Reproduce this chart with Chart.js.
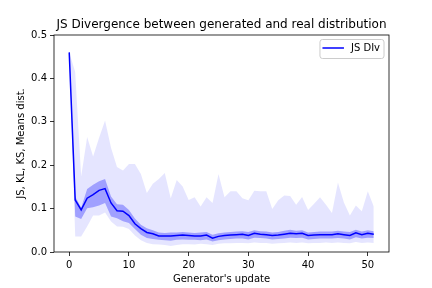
<!DOCTYPE html>
<html lang="en">
<head>
  <meta charset="UTF-8" />
  <title>JS Divergence</title>
  <script src="https://cdn.jsdelivr.net/npm/chart.js"></script>
  <style>
    html, body {
      margin: 0;
      padding: 0;
      background: #ffffff;
    }
    canvas {
      display: block;
    }
  </style>
</head>
<body>
  <canvas id="jsChart" width="432" height="288"></canvas>

  <script>
    // values, one per generator update (0..51)
    const meanDist = [
      0.460, 0.120, 0.097, 0.124, 0.132, 0.142, 0.146, 0.113, 0.095, 0.094,
      0.084, 0.065, 0.054, 0.045, 0.042, 0.037, 0.037, 0.037, 0.038, 0.039,
      0.038, 0.037, 0.037, 0.039, 0.032, 0.036, 0.038, 0.039, 0.040, 0.041,
      0.038, 0.043, 0.041, 0.040, 0.038, 0.039, 0.041, 0.043, 0.042, 0.043,
      0.038, 0.039, 0.040, 0.040, 0.040, 0.042, 0.040, 0.038, 0.044, 0.040,
      0.043, 0.041
    ];
    const stdUpper = [
      0.460, 0.128, 0.102, 0.145, 0.155, 0.163, 0.168, 0.128, 0.110, 0.109,
      0.097, 0.077, 0.063, 0.055, 0.050, 0.045, 0.044, 0.045, 0.045, 0.046,
      0.045, 0.044, 0.045, 0.046, 0.040, 0.043, 0.045, 0.046, 0.047, 0.048,
      0.046, 0.050, 0.048, 0.047, 0.045, 0.046, 0.049, 0.051, 0.049, 0.050,
      0.045, 0.046, 0.047, 0.047, 0.047, 0.049, 0.047, 0.046, 0.051, 0.047,
      0.050, 0.048
    ];
    const stdLower = [
      0.460, 0.082, 0.076, 0.101, 0.103, 0.107, 0.113, 0.082, 0.078, 0.071,
      0.067, 0.053, 0.040, 0.032, 0.030, 0.028, 0.027, 0.026, 0.028, 0.029,
      0.028, 0.028, 0.027, 0.029, 0.024, 0.027, 0.029, 0.030, 0.031, 0.031,
      0.029, 0.033, 0.032, 0.031, 0.029, 0.030, 0.031, 0.033, 0.032, 0.033,
      0.029, 0.030, 0.031, 0.031, 0.031, 0.032, 0.031, 0.029, 0.034, 0.031,
      0.033, 0.032
    ];
    const maxDist = [
      0.460, 0.415, 0.174, 0.265, 0.220, 0.263, 0.303, 0.240, 0.196, 0.188,
      0.203, 0.203, 0.180, 0.136, 0.157, 0.168, 0.182, 0.124, 0.166, 0.151,
      0.120, 0.126, 0.105, 0.126, 0.113, 0.180, 0.126, 0.140, 0.140, 0.124,
      0.119, 0.141, 0.140, 0.140, 0.099, 0.119, 0.130, 0.129, 0.109, 0.127,
      0.097, 0.111, 0.126, 0.109, 0.090, 0.160, 0.114, 0.084, 0.107, 0.094,
      0.140, 0.105
    ];
    const minDist = [
      0.460, 0.036, 0.036, 0.059, 0.084, 0.084, 0.091, 0.070, 0.059, 0.058,
      0.053, 0.038, 0.027, 0.021, 0.018, 0.017, 0.016, 0.014, 0.016, 0.018,
      0.018, 0.017, 0.019, 0.018, 0.016, 0.019, 0.020, 0.020, 0.021, 0.021,
      0.020, 0.022, 0.021, 0.021, 0.019, 0.020, 0.021, 0.022, 0.021, 0.022,
      0.020, 0.021, 0.021, 0.022, 0.021, 0.022, 0.021, 0.020, 0.023, 0.021,
      0.022, 0.021
    ];
    const xTicks = [0, 10, 20, 30, 40, 50];
    const yTicks = [0.0, 0.1, 0.2, 0.3, 0.4, 0.5];

    const font = { family: 'DejaVu Sans', size: 10 };
    const toPoints = arr => arr.map((v, i) => ({ x: i, y: v }));

    // axes box on all four sides, like matplotlib
    const frame = {
      id: 'frame',
      afterDraw(chart) {
        const { ctx, chartArea: a } = chart;
        ctx.save();
        ctx.strokeStyle = '#000';
        ctx.lineWidth = 0.8;
        ctx.strokeRect(a.left, a.top, a.right - a.left, a.bottom - a.top);
        ctx.restore();
      }
    };

    // legend box in the upper right corner of the plot
    const legendBox = {
      id: 'legendBox',
      afterDraw(chart) {
        const { ctx, chartArea: a } = chart;
        const ds = chart.data.datasets[0];
        ctx.save();
        ctx.font = '10px "DejaVu Sans"';
        const tw = ctx.measureText(ds.label).width;
        const w = 2 + 22 + 7 + tw + 4;
        const h = 19;
        const x = a.right - 5 - w;
        const y = a.top + 4.5;
        ctx.beginPath();
        ctx.roundRect(x, y, w, h, 2.5);
        ctx.fillStyle = 'rgba(255,255,255,0.8)';
        ctx.fill();
        ctx.strokeStyle = '#cccccc';
        ctx.lineWidth = 1;
        ctx.stroke();
        ctx.beginPath();
        ctx.moveTo(x + 2.5, y + 8.5);
        ctx.lineTo(x + 24, y + 8.5);
        ctx.strokeStyle = ds.borderColor;
        ctx.lineWidth = 1.5;
        ctx.stroke();
        ctx.fillStyle = '#000';
        ctx.textBaseline = 'middle';
        ctx.fillText(ds.label, x + 31, y + 9);
        ctx.restore();
      }
    };

    new Chart(document.getElementById('jsChart'), {
      type: 'line',
      data: {
        datasets: [
          {
            label: 'JS DIv',
            data: toPoints(meanDist),
            borderColor: '#0000ff',
            borderWidth: 1.5,
            pointRadius: 0,
            fill: false
          },
          {
            label: 'std upper',
            data: toPoints(stdUpper),
            borderWidth: 0,
            pointRadius: 0,
            backgroundColor: 'rgba(0,0,255,0.3)',
            fill: '+1'
          },
          {
            label: 'std lower',
            data: toPoints(stdLower),
            borderWidth: 0,
            pointRadius: 0,
            fill: false
          },
          {
            label: 'max',
            data: toPoints(maxDist),
            borderWidth: 0,
            pointRadius: 0,
            backgroundColor: 'rgba(0,0,255,0.1)',
            fill: '+1'
          },
          {
            label: 'min',
            data: toPoints(minDist),
            borderWidth: 0,
            pointRadius: 0,
            fill: false
          }
        ]
      },
      options: {
        responsive: false,
        animation: false,
        devicePixelRatio: 1,
        layout: { padding: { left: 11, right: 0, top: 0, bottom: 0 } },
        elements: { line: { tension: 0 } },
        plugins: {
          legend: { display: false },
          tooltip: { enabled: false },
          title: {
            display: true,
            text: 'JS Divergence between generated and real distribution',
            color: '#000',
            font: { family: 'DejaVu Sans', size: 12, weight: 'normal' },
            padding: { top: 17.6, bottom: 3 }
          }
        },
        scales: {
          x: {
            type: 'linear',
            min: -2.55,
            max: 53.55,
            afterBuildTicks: axis => { axis.ticks = xTicks.map(v => ({ value: v })); },
            afterFit: axis => { axis.height = 36; },
            ticks: { color: '#000', font, padding: 3, maxRotation: 0, autoSkip: false },
            grid: { drawOnChartArea: false, drawTicks: true, tickLength: 4, color: '#000', lineWidth: 0.8 },
            border: { display: false },
            title: {
              display: true,
              text: "Generator's update",
              color: '#000',
              font,
              padding: { top: 0, bottom: 3 }
            }
          },
          y: {
            type: 'linear',
            min: 0,
            max: 0.5,
            afterBuildTicks: axis => { axis.ticks = yTicks.map(v => ({ value: v })); },
            afterFit: axis => { axis.width = 43; },
            ticks: { color: '#000', font, padding: 3, callback: v => v.toFixed(1) },
            grid: { drawOnChartArea: false, drawTicks: true, tickLength: 4, color: '#000', lineWidth: 0.8 },
            border: { display: false },
            title: {
              display: true,
              text: 'JS, KL, KS, Means dist.',
              color: '#000',
              font,
              padding: { top: 4, bottom: 0 }
            }
          },
          spacer: {
            type: 'linear',
            position: 'right',
            display: true,
            afterFit: axis => { axis.width = 43; },
            ticks: { display: false },
            grid: { display: false },
            border: { display: false }
          }
        }
      },
      plugins: [frame, legendBox]
    });
  </script>
</body>
</html>
